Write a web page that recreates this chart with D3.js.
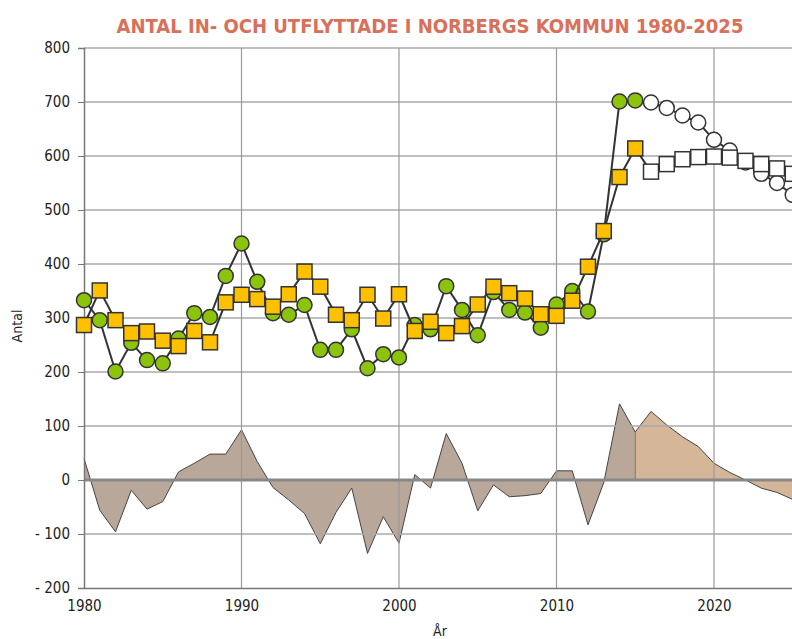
<!DOCTYPE html>
<html>
<head>
<meta charset="utf-8">
<script src="https://cdn.jsdelivr.net/npm/d3@7"></script>
<style>
  body { margin: 0; background: #fff; }
  svg { display: block; font-family: "DejaVu Sans Condensed", "DejaVu Sans", sans-serif; font-stretch: condensed; }
</style>
</head>
<body>
<div id="chart"></div>
<script>
// chart data
const years = [1980, 1981, 1982, 1983, 1984, 1985, 1986, 1987, 1988, 1989,
               1990, 1991, 1992, 1993, 1994, 1995, 1996, 1997, 1998, 1999,
               2000, 2001, 2002, 2003, 2004, 2005, 2006, 2007, 2008, 2009,
               2010, 2011, 2012, 2013, 2014, 2015, 2016, 2017, 2018, 2019,
               2020, 2021, 2022, 2023, 2024, 2025];
// inflyttade (green circles)
const inflyttade = [333, 296, 201, 254, 222, 216, 262, 309, 302, 378,
                    438, 367, 309, 306, 324, 241, 241, 279, 207, 233,
                    227, 287, 279, 359, 315, 268, 348, 315, 310, 282,
                    325, 350, 312, 455, 701, 703, 699, 689, 675, 662,
                    630, 610, 588, 567, 550, 528];
// utflyttade (yellow squares)
const utflyttade = [287, 351, 296, 272, 275, 258, 248, 276, 255, 329,
                    343, 335, 321, 344, 386, 358, 306, 296, 343, 299,
                    344, 276, 293, 272, 285, 325, 358, 346, 336, 307,
                    304, 332, 395, 461, 561, 614, 571, 585, 594, 598,
                    599, 597, 591, 585, 577, 567];
// flyttnetto (area)
const netto = [40, -56, -96, -19, -54, -40, 15, 31, 48, 48,
               93, 34, -14, -37, -62, -118, -60, -15, -136, -68,
               -117, 10, -15, 86, 31, -57, -9, -31, -29, -25,
               17, 17, -83, -5, 141, 89, 127, 102, 80, 62,
               31, 14, 0, -15, -23, -36];
const lastOutcome = 2015; // after this year the values are a forecast
const yTicks = [-200, -100, 0, 100, 200, 300, 400, 500, 600, 700, 800];
const xTicks = [1980, 1990, 2000, 2010, 2020];

const width = 792, height = 639;

let svg = d3.select("#chart")
    .append("svg")
    .attr("width", width)
    .attr("height", height);

let x = d3.scaleLinear().domain([1980, 2025]).range([84, 792.75]);
let y = d3.scaleLinear().domain([-200, 800]).range([588, 48]);

let rows = years.map((yr, i) => ({year: yr, inn: inflyttade[i], ut: utflyttade[i], net: netto[i]}));

// net area, outcome and forecast parts
let area = d3.area().x(d => x(d.year)).y0(y(0)).y1(d => y(d.net));
let netLine = d3.line().x(d => x(d.year)).y(d => y(d.net));
let hist = rows.filter(d => d.year <= lastOutcome);
let prog = rows.filter(d => d.year >= lastOutcome);

svg.append("path").datum(hist).attr("d", area).attr("fill", "#b9a899");
svg.append("path").datum(prog).attr("d", area).attr("fill", "#d5b699");
svg.append("path").datum(hist).attr("d", netLine).attr("fill", "none").attr("stroke", "#444").attr("stroke-width", 1);
svg.append("path").datum(prog).attr("d", netLine).attr("fill", "none").attr("stroke", "#444").attr("stroke-width", 1);
svg.append("line")
    .attr("x1", x(lastOutcome)).attr("x2", x(lastOutcome))
    .attr("y1", y(0)).attr("y2", y(netto[years.indexOf(lastOutcome)]))
    .attr("stroke", "#777").attr("stroke-width", 1);

// gridlines
svg.append("g").selectAll("line").data(yTicks.filter(t => t !== 0 && t !== -200)).join("line")
    .attr("x1", 84).attr("x2", width)
    .attr("y1", d => y(d)).attr("y2", d => y(d))
    .attr("stroke", "#aaa").attr("stroke-width", 1.5);
svg.append("g").selectAll("line").data(xTicks.slice(1)).join("line")
    .attr("x1", d => x(d)).attr("x2", d => x(d))
    .attr("y1", y(800)).attr("y2", y(-200))
    .attr("stroke", "#999").attr("stroke-width", 1.2);

// zero line
svg.append("line")
    .attr("x1", 84).attr("x2", width)
    .attr("y1", y(0)).attr("y2", y(0))
    .attr("stroke", "#888").attr("stroke-width", 3);

// axes
let yAxis = svg.append("g")
    .attr("transform", "translate(84,0)")
    .call(d3.axisLeft(y).tickValues(yTicks).tickSize(6).tickPadding(8)
        .tickFormat(d => d < 0 ? "- " + Math.abs(d) : d));
let xAxis = svg.append("g")
    .attr("transform", `translate(0,${y(-200)})`)
    .call(d3.axisBottom(x).tickValues(xTicks).tickSize(0).tickPadding(12).tickFormat(d3.format("d")));
[yAxis, xAxis].forEach(a => {
    a.select(".domain").attr("stroke", "#777").attr("stroke-width", 1.5);
    a.selectAll(".tick line").attr("stroke", "#777");
    a.selectAll("text").attr("fill", "#222").style("font-size", "15px")
        .style("font-family", "\"DejaVu Sans Condensed\", \"DejaVu Sans\", sans-serif");
});

// series lines
let line = key => d3.line().x(d => x(d.year)).y(d => y(d[key]));
svg.append("path").datum(rows).attr("d", line("inn"))
    .attr("fill", "none").attr("stroke", "#333").attr("stroke-width", 2);
svg.append("g").selectAll("circle").data(rows).join("circle")
    .attr("cx", d => x(d.year)).attr("cy", d => y(d.inn)).attr("r", 7.5)
    .attr("fill", d => d.year <= lastOutcome ? "#8cc40c" : "#fff")
    .attr("stroke", "#333").attr("stroke-width", 1.5);

svg.append("path").datum(rows).attr("d", line("ut"))
    .attr("fill", "none").attr("stroke", "#333").attr("stroke-width", 2);
svg.append("g").selectAll("rect").data(rows).join("rect")
    .attr("x", d => x(d.year) - 7.5).attr("y", d => y(d.ut) - 7.5)
    .attr("width", 15).attr("height", 15)
    .attr("fill", d => d.year <= lastOutcome ? "#ffc000" : "#fff")
    .attr("stroke", "#333").attr("stroke-width", 1.5);

// title, shrink the font until it fits the width seen in the picture
let title = svg.append("text")
    .attr("x", 430).attr("y", 33)
    .attr("text-anchor", "middle")
    .attr("fill", "#d8705a")
    .style("font-size", "20px").style("font-weight", "bold")
    .text("ANTAL IN- OCH UTFLYTTADE I NORBERGS KOMMUN 1980-2025");
let fs = 20;
while (title.node().getComputedTextLength() > 633 && fs > 12) {
    fs -= 0.5;
    title.style("font-size", fs + "px");
}

svg.append("text")
    .attr("x", 440).attr("y", 636)
    .attr("text-anchor", "middle")
    .attr("fill", "#222").style("font-size", "14px")
    .text("År");

svg.append("text")
    .attr("transform", "translate(22,326) rotate(-90)")
    .attr("text-anchor", "middle")
    .attr("fill", "#222").style("font-size", "14px")
    .text("Antal");
</script>
</body>
</html>
